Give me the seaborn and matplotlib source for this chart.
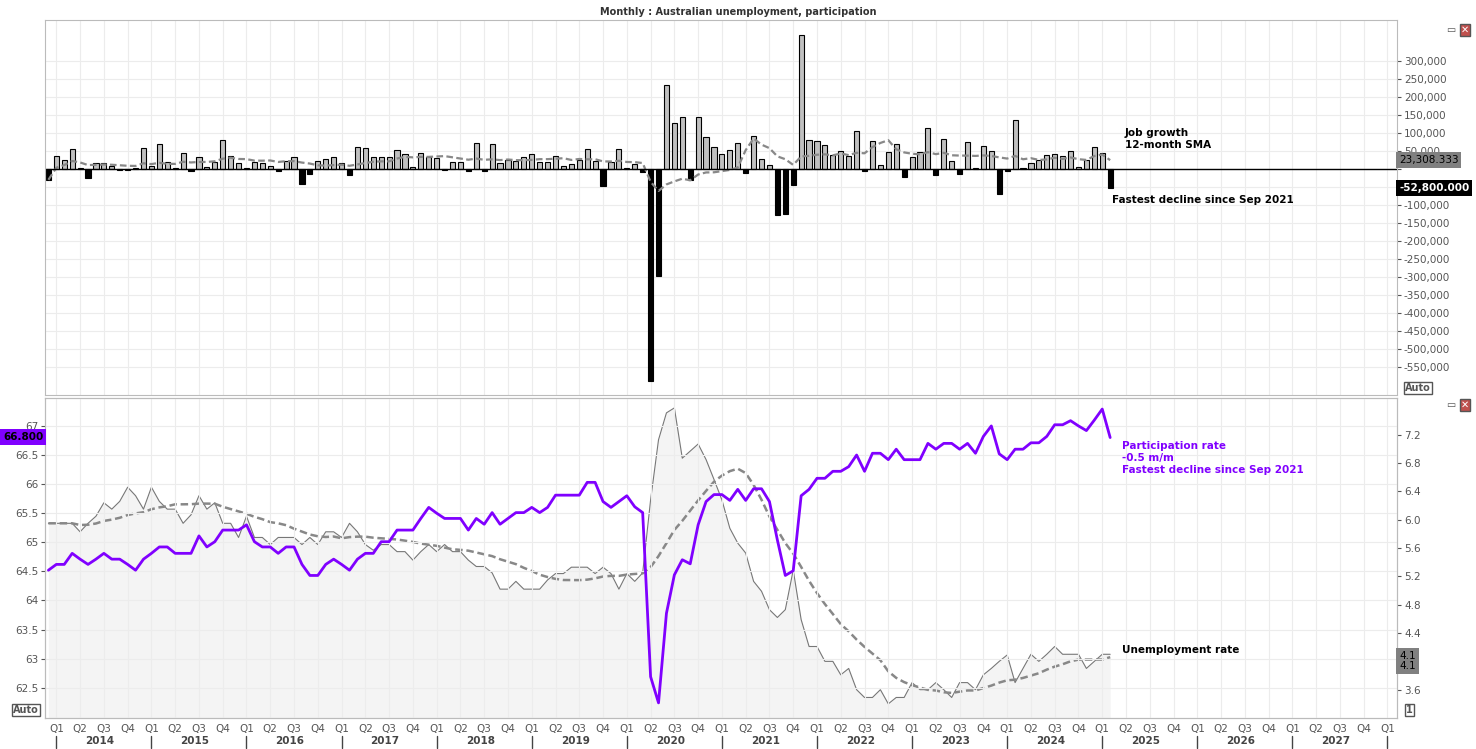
import numpy as np
import pandas as pd
import matplotlib
matplotlib.use("Agg")
import matplotlib.pyplot as plt
import matplotlib.transforms as mtransforms
import seaborn as sns

# -------------------- Data (Dec 2013 .. Feb 2025, monthly) -------------------- #
job_change = [
    -30, 37, 26, 56, 2, -26, 17, 17, 7, -4, -4, 4,
    59, 9, 70, 20, 2, 44, -6, 34, 6, 20, 81, 37,
    17, 4, 20, 18, 9, -6, 21, 34, -41, -13, 22, 28,
    34, 17, -16, 62, 59, 34, 34, 34, 54, 42, 6, 44,
    34, 31, -4, 20, 20, -6, 72, -6, 69, 17, 25, 23,
    32, 42, 20, 20, 36, 9, 15, 26, 56, 22, -48, 20,
    56, 2, 14, -9, -590, -297, 233, 128, 145, -31, 145, 89,
    61, 42, 53, 72, -11, 91, 28, 11, -129, -126, -45, 372,
    81, 78, 67, 39, 50, 37, 106, -6, 78, 11, 47, 69,
    -23, 33, 47, 114, -18, 83, 22, -15, 75, 2, 64, 50,
    -70, -6, 136, 2, 17, 25, 39, 42, 36, 50, 6, 25,
    61, 44, -52.8,
]
job_change = [v * 1000 for v in job_change]

participation = [
    64.52, 64.62, 64.62, 64.81, 64.71, 64.62, 64.71, 64.81, 64.71, 64.71, 64.62, 64.52,
    64.71, 64.81, 64.92, 64.92, 64.81, 64.81, 64.81, 65.11, 64.92, 65.01, 65.21, 65.21,
    65.21, 65.30, 65.01, 64.92, 64.92, 64.81, 64.92, 64.92, 64.62, 64.43, 64.43, 64.62,
    64.71, 64.62, 64.52, 64.71, 64.81, 64.81, 65.01, 65.01, 65.21, 65.21, 65.21, 65.41,
    65.60, 65.50, 65.41, 65.41, 65.41, 65.21, 65.41, 65.31, 65.51, 65.31, 65.41, 65.51,
    65.51, 65.60, 65.51, 65.60, 65.81, 65.81, 65.81, 65.81, 66.03, 66.03, 65.70, 65.60,
    65.70, 65.80, 65.61, 65.51, 62.69, 62.24, 63.78, 64.44, 64.70, 64.63, 65.30, 65.70,
    65.82, 65.82, 65.72, 65.91, 65.72, 65.92, 65.92, 65.70, 65.04, 64.43, 64.51, 65.80,
    65.91, 66.10, 66.10, 66.22, 66.22, 66.30, 66.50, 66.22, 66.53, 66.53, 66.42, 66.60,
    66.42, 66.42, 66.42, 66.70, 66.60, 66.70, 66.70, 66.60, 66.70, 66.53, 66.82, 67.00,
    66.52, 66.42, 66.60, 66.60, 66.71, 66.71, 66.82, 67.02, 67.02, 67.09, 67.00, 66.92,
    67.10, 67.29, 66.80,
]

unemployment = [
    5.95, 5.95, 5.95, 5.95, 5.83, 5.95, 6.05, 6.24, 6.15, 6.26, 6.46, 6.34,
    6.15, 6.46, 6.26, 6.15, 6.15, 5.95, 6.07, 6.34, 6.15, 6.24, 5.95, 5.95,
    5.75, 6.05, 5.75, 5.75, 5.65, 5.75, 5.75, 5.75, 5.65, 5.75, 5.65, 5.83,
    5.83, 5.75, 5.95, 5.83, 5.65, 5.57, 5.65, 5.65, 5.55, 5.55, 5.43, 5.55,
    5.65, 5.55, 5.65, 5.55, 5.55, 5.43, 5.34, 5.34, 5.25, 5.02, 5.02, 5.13,
    5.02, 5.02, 5.02, 5.15, 5.24, 5.24, 5.33, 5.33, 5.33, 5.24, 5.33, 5.24,
    5.02, 5.24, 5.13, 5.25, 6.28, 7.13, 7.51, 7.58, 6.87, 6.97, 7.07, 6.85,
    6.57, 6.28, 5.88, 5.67, 5.53, 5.13, 4.99, 4.73, 4.62, 4.73, 5.29, 4.59,
    4.21, 4.21, 4.00, 4.00, 3.81, 3.90, 3.60, 3.49, 3.49, 3.60, 3.40, 3.49,
    3.49, 3.70, 3.60, 3.60, 3.70, 3.60, 3.49, 3.70, 3.70, 3.60, 3.81, 3.90,
    4.00, 4.09, 3.70, 3.90, 4.10, 4.00, 4.10, 4.21, 4.10, 4.10, 4.10, 3.90,
    4.00, 4.10, 4.10,
]

quarter_labels = ["Q1", "Q2", "Q3", "Q4"]
years = list(range(2014, 2028))

# month index: 0 = Jan 2014
months = np.arange(-1, -1 + len(job_change))
df = pd.DataFrame({"month": months, "jobs": job_change,
                   "part": participation, "unemp": unemployment})
df["jobs_sma"] = df["jobs"].rolling(12, min_periods=1).mean()
df["unemp_sma"] = df["unemp"].rolling(12, min_periods=1).mean()
df["sign"] = np.where(df["jobs"] >= 0, "pos", "neg")

# -------------------- Figure -------------------- #
sns.set_style("white")
plt.rcParams["font.family"] = ["DejaVu Sans"]
W, H = 1476, 749
fig = plt.figure(figsize=(W / 100, H / 100), dpi=100)
fig.patch.set_facecolor("white")

def px_axes(x0, y0, x1, y1):
    return fig.add_axes([x0 / W, 1 - y1 / H, (x1 - x0) / W, (y1 - y0) / H])

xmin, xmax = -1.43, 169.2
ax1 = px_axes(45, 20, 1397, 395)
ax2 = px_axes(45, 398, 1397, 718)
grid_c = "#ececec"
tick_c = "#555555"

# -------------------- Top panel: job growth -------------------- #
sns.barplot(data=df[df.sign == "pos"], x="month", y="jobs", native_scale=True,
            color="#c0c0c0", edgecolor="black", linewidth=0.8, width=0.65,
            saturation=1, ax=ax1)
sns.barplot(data=df[df.sign == "neg"], x="month", y="jobs", native_scale=True,
            color="black", edgecolor="black", linewidth=0.8, width=0.65,
            saturation=1, ax=ax1)
sns.lineplot(data=df, x="month", y="jobs_sma", color="#888888", lw=1.6,
             linestyle=(0, (3, 1.5)), ax=ax1)
ax1.axhline(0, color="black", lw=1)
ax1.set_xlim(xmin, xmax)
ax1.set_ylim(-628000, 414000)
ax1.yaxis.tick_right()
yt = np.arange(-550000, 300001, 50000)
ax1.set_yticks(yt)
# 0 and -50,000 sit under the value tags
ax1.set_yticklabels(["" if v in (0, -50000) else f"{v:,.0f}" for v in yt],
                    fontsize=7.5, color=tick_c)
ax1.set_xticks(np.arange(0, 169, 3))
ax1.set_xticklabels([])
ax1.tick_params(axis="x", length=0)
ax1.tick_params(axis="y", length=3, color=tick_c, pad=2)
ax1.grid(True, color=grid_c, lw=0.8)
ax1.set_axisbelow(True)
ax1.set_xlabel("")
ax1.set_ylabel("")
for s in ax1.spines.values():
    s.set_color("#bbbbbb")

# -------------------- Bottom panel -------------------- #
ax2b = ax2.twinx()
ax2b.fill_between(df["month"], df["unemp"], 3.2, color="#ebebeb", alpha=0.55, lw=0)
sns.lineplot(data=df, x="month", y="unemp", color="#777777", lw=0.8, ax=ax2b)
sns.lineplot(data=df, x="month", y="unemp_sma", color="#888888", lw=1.8,
             linestyle=(0, (3, 1.5)), ax=ax2b)
ax2b.set_ylim(3.2, 7.72)
rt = np.arange(3.6, 7.21, 0.4)
ax2b.set_yticks(rt)
ax2b.set_yticklabels(["" if abs(v - 4.0) < 0.01 else f"{v:.1f}" for v in rt],
                     fontsize=7.5, color=tick_c)
ax2b.tick_params(axis="y", length=3, color=tick_c, pad=2)
ax2b.set_ylabel("")

ax2.set_zorder(ax2b.get_zorder() + 1)
ax2.patch.set_visible(False)
sns.lineplot(data=df, x="month", y="part", color="#8000ff", lw=2, ax=ax2)
ax2.set_ylim(61.98, 67.48)
lt = np.arange(62.5, 67.01, 0.5)
ax2.set_yticks(lt)
ax2.set_yticklabels([f"{v:g}" for v in lt], fontsize=7.5, color=tick_c)
ax2.tick_params(axis="y", length=3, color=tick_c, pad=2)
ax2.set_xlim(xmin, xmax)
qt = np.arange(0, 169, 3)
ax2.set_xticks(qt)
ax2.set_xticklabels([quarter_labels[(m // 3) % 4] for m in qt], fontsize=7.5, color=tick_c)
ax2.tick_params(axis="x", length=3, color=tick_c, pad=1)
ax2.grid(True, color=grid_c, lw=0.8)
ax2b.grid(False)
ax2.set_xlabel("")
ax2.set_ylabel("")
for a in (ax2, ax2b):
    for s in a.spines.values():
        s.set_color("#bbbbbb")

# year labels and separators under the axis
trans = mtransforms.blended_transform_factory(ax2.transData, fig.transFigure)
for i, yr in enumerate(years):
    m0 = 12 * i
    ax2.text(m0 + 5.5, 1 - 741 / H, str(yr), transform=trans, ha="center", va="center",
             fontsize=7.5, fontweight="bold", color="#444444", clip_on=False)
for i in range(len(years) + 1):
    ax2.plot([12 * i, 12 * i], [1 - 736 / H, 1 - 748 / H], transform=trans,
             color="#444444", lw=1, clip_on=False)

# -------------------- Text and value tags -------------------- #
def ftext(x, y, s, **kw):
    fig.text(x / W, 1 - y / H, s, **kw)

ftext(738, 12, "Monthly : Australian unemployment, participation", ha="center", va="center",
      fontsize=7, fontweight="bold", color="#333333")
ftext(1125, 139, "Job growth\n12-month SMA", ha="left", va="center", fontsize=7.5,
      fontweight="bold", color="black", linespacing=1.3)
ftext(1112, 200, "Fastest decline since Sep 2021", ha="left", va="center", fontsize=7.5,
      fontweight="bold", color="black")
ftext(1122, 458, "Participation rate\n-0.5 m/m\nFastest decline since Sep 2021", ha="left",
      va="center", fontsize=7.5, fontweight="bold", color="#8000ff", linespacing=1.3)
ftext(1122, 650, "Unemployment rate", ha="left", va="center", fontsize=7.5,
      fontweight="bold", color="black")

ftext(1399, 160, "23,308.333", ha="left", va="center", fontsize=7.5, color="black",
      bbox=dict(boxstyle="square,pad=0.25", fc="#808080", ec="none"))
ftext(1399, 188, f"{job_change[-1]:,.3f}", ha="left", va="center", fontsize=7.5,
      fontweight="bold", color="white",
      bbox=dict(boxstyle="square,pad=0.25", fc="black", ec="none"))
ftext(3, 437, f"{participation[-1]:.3f}", ha="left", va="center", fontsize=7.5,
      fontweight="bold", color="black",
      bbox=dict(boxstyle="square,pad=0.25", fc="#8000ff", ec="none"))
ftext(1399, 661, "4.1\n4.1", ha="left", va="center", fontsize=7.5, color="black",
      linespacing=1.0, bbox=dict(boxstyle="square,pad=0.3", fc="#808080", ec="none"))
ftext(1405, 388, "Auto", ha="left", va="center", fontsize=7, fontweight="bold",
      color="#555555", bbox=dict(boxstyle="square,pad=0.15", fc="white", ec="#555555"))
ftext(13, 710, "Auto", ha="left", va="center", fontsize=7, fontweight="bold",
      color="#555555", bbox=dict(boxstyle="square,pad=0.15", fc="white", ec="#555555"))
ftext(1406, 710, "1", ha="left", va="center", fontsize=7, fontweight="bold",
      color="#555555", bbox=dict(boxstyle="square,pad=0.15", fc="white", ec="#555555"))
for yy in (30, 405):
    ftext(1446, yy, "▭", ha="left", va="center", fontsize=7, color="#555555")
    ftext(1461, yy, "✕", ha="left", va="center", fontsize=7, color="white",
          bbox=dict(boxstyle="square,pad=0.1", fc="#c0504d", ec="#555555"))

fig.savefig("out.png", dpi=100, facecolor="white")
